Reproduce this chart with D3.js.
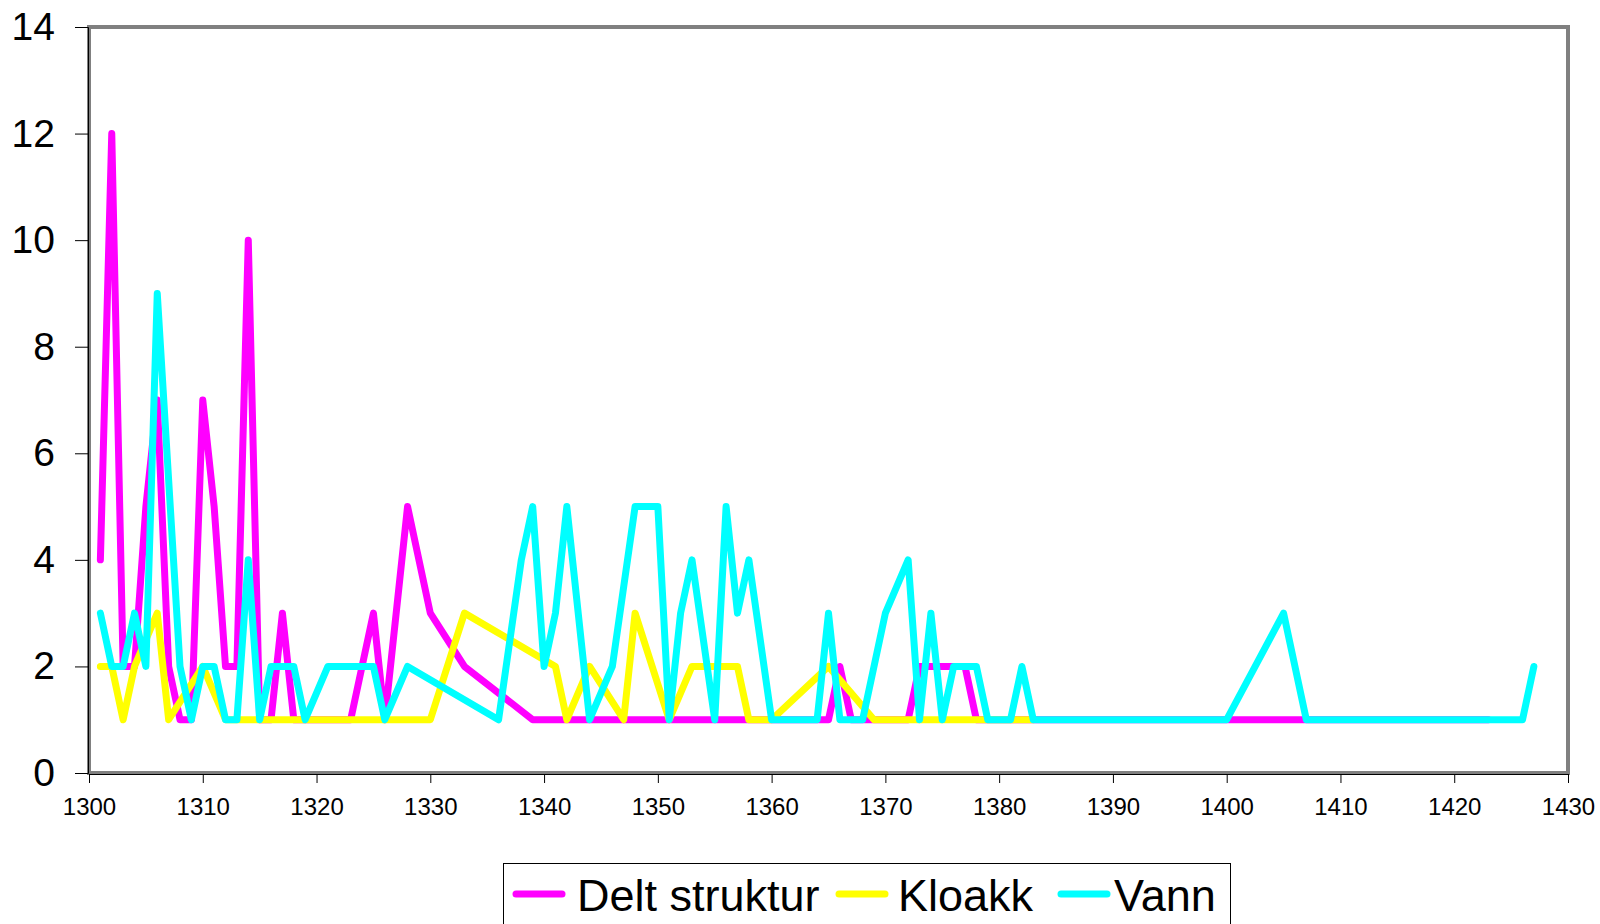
<!DOCTYPE html>
<html>
<head>
<meta charset="utf-8">
<script src="https://cdn.jsdelivr.net/npm/d3@7"></script>
<style>
  body { margin: 0; background: #fff; }
  svg text { font-family: "Liberation Sans", Arial, sans-serif; fill: #000; }
</style>
</head>
<body>
<div class="chart"></div>
<script>
// data (year, count)
const deltYears  = [1301,1302,1303,1304,1305,1306,1307,1308,1309,1310,1311,1312,1313,1314,1315,1316,1317,1318,1323,1325,1326,1328,1330,1333,1339,1365,1366,1367,1372,1373,1377,1378,1423];
const deltValues = [4,12,2,2,5,7,2,1,1,7,5,2,2,10,1,1,3,1,1,3,1,5,3,2,1,1,2,1,1,2,2,1,1];

const kloakkYears  = [1301,1302,1303,1304,1306,1307,1310,1312,1330,1333,1341,1342,1344,1347,1348,1351,1353,1357,1358,1360,1365,1369,1383];
const kloakkValues = [2,2,1,2,3,1,2,1,1,3,2,1,2,1,3,1,2,2,1,1,2,1,1];

const vannYears  = [1301,1302,1303,1304,1305,1306,1308,1309,1310,1311,1312,1313,1314,1315,1316,1318,1319,1321,1325,1326,1328,1336,1338,1339,1340,1341,1342,1344,1346,1348,1350,1351,1352,1353,1355,1356,1357,1358,1360,1364,1365,1366,1368,1370,1372,1373,1374,1375,1376,1378,1379,1381,1382,1383,1400,1405,1407,1426,1427];
const vannValues = [3,2,2,3,2,9,2,1,2,2,1,1,4,1,2,2,1,2,2,1,2,1,4,5,2,3,5,1,2,5,5,1,3,4,1,5,3,4,1,1,3,1,1,3,4,1,3,1,2,2,1,1,2,1,1,3,1,1,2];

const seriesNames  = ['Delt struktur', 'Kloakk', 'Vann'];
const seriesColors = ['#ff00ff', '#ffff00', '#00ffff'];
const yTicks = [0, 2, 4, 6, 8, 10, 12, 14];
const xTicks = d3.range(1300, 1431, 10);

const SVGWIDTH = 1600;
const SVGHEIGHT = 924;
const PLOT = { left: 89, right: 1568, top: 27, bottom: 773 };

let svg = d3.select('.chart')
  .append('svg')
  .attr('width', SVGWIDTH)
  .attr('height', SVGHEIGHT);

let x = d3.scaleLinear().domain([1300, 1430]).range([PLOT.left, PLOT.right]);
let y = d3.scaleLinear().domain([0, 14]).range([PLOT.bottom, PLOT.top]);

// plot frame
svg.append('rect')
  .attr('x', PLOT.left)
  .attr('y', PLOT.top)
  .attr('width', PLOT.right - PLOT.left)
  .attr('height', PLOT.bottom - PLOT.top)
  .attr('fill', '#fff')
  .attr('stroke', '#808080')
  .attr('stroke-width', 4);

// axes
svg.append('g')
  .attr('transform', `translate(${PLOT.left - 1},0)`)
  .call(d3.axisLeft(y).tickValues(yTicks).tickSize(13).tickPadding(20))
  .call(g => g.select('.domain').attr('stroke', '#000'))
  .call(g => g.selectAll('text').style('font-size', '39px'));

svg.append('g')
  .attr('transform', `translate(0,${PLOT.bottom + 1})`)
  .call(d3.axisBottom(x).tickValues(xTicks).tickFormat(d3.format('d')).tickSize(9).tickPadding(15))
  .call(g => g.select('.domain').attr('stroke', '#000'))
  .call(g => g.selectAll('text').style('font-size', '24px'));

// lines
const data = [
  d3.zip(deltYears, deltValues),
  d3.zip(kloakkYears, kloakkValues),
  d3.zip(vannYears, vannValues)
];

const line = d3.line().x(d => x(d[0])).y(d => y(d[1]));

svg.selectAll('.series')
  .data(data)
  .enter()
  .append('path')
  .attr('class', 'series')
  .attr('d', line)
  .attr('fill', 'none')
  .attr('stroke', (d, i) => seriesColors[i])
  .attr('stroke-width', 7)
  .attr('stroke-linejoin', 'round')
  .attr('stroke-linecap', 'round');

// legend
const legend = svg.append('g');
legend.append('rect')
  .attr('x', 503.5)
  .attr('y', 863.5)
  .attr('width', 727)
  .attr('height', 80)
  .attr('fill', '#fff')
  .attr('stroke', '#000')
  .attr('stroke-width', 1);

const legendX = [516, 839, 1061];
const textX = [577, 898, 1114];
seriesNames.forEach(function(name, i) {
  legend.append('line')
    .attr('x1', legendX[i])
    .attr('x2', legendX[i] + 46)
    .attr('y1', 894)
    .attr('y2', 894)
    .attr('stroke', seriesColors[i])
    .attr('stroke-width', 7)
    .attr('stroke-linecap', 'round');
  legend.append('text')
    .attr('x', textX[i])
    .attr('y', 911)
    .style('font-size', '45px')
    .text(name);
});
</script>
</body>
</html>
